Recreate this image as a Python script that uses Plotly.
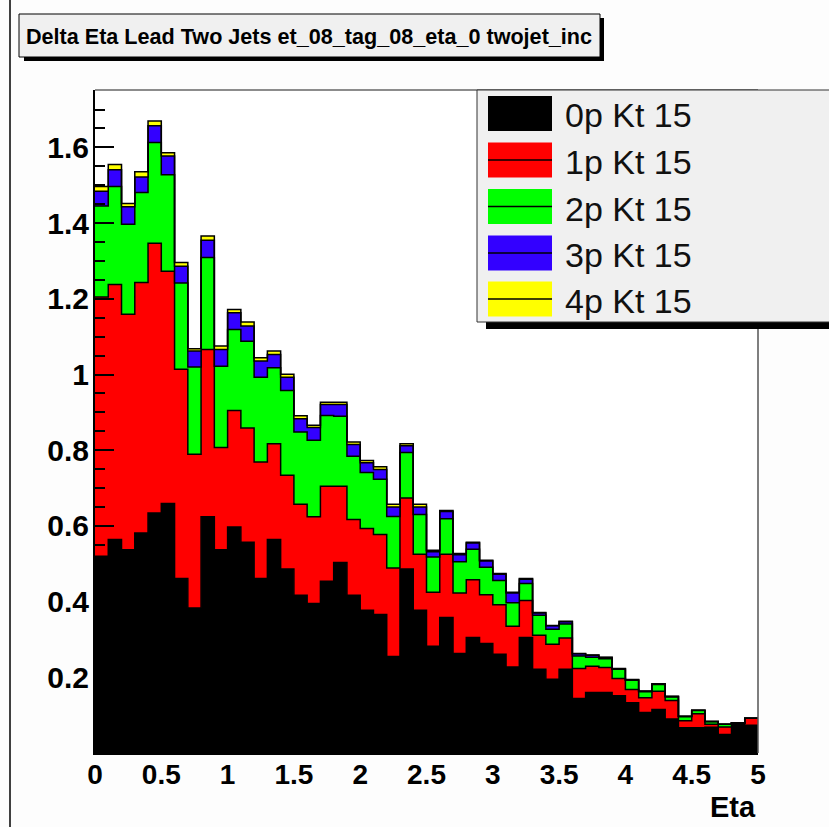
import numpy as np
import plotly.graph_objects as go

# ---- data: 50 bins of width 0.1 from 0 to 5 ----
bin_low_edges = np.round(np.arange(0.0, 5.0, 0.1), 2)
x_max = 5.0

kt15_0p = [0.520, 0.564, 0.537, 0.581, 0.634, 0.659, 0.461, 0.383, 0.624, 0.537,
           0.597, 0.557, 0.461, 0.564, 0.486, 0.417, 0.395, 0.454, 0.503, 0.417,
           0.377, 0.366, 0.255, 0.486, 0.377, 0.282, 0.358, 0.263, 0.305, 0.289,
           0.261, 0.227, 0.305, 0.221, 0.195, 0.221, 0.144, 0.160, 0.160, 0.151,
           0.133, 0.107, 0.115, 0.090, 0.067, 0.067, 0.068, 0.049, 0.079, 0.073]
kt15_1p = [0.685, 0.674, 0.622, 0.662, 0.713, 0.614, 0.553, 0.406, 0.442, 0.270,
           0.308, 0.302, 0.308, 0.253, 0.248, 0.240, 0.229, 0.251, 0.202, 0.200,
           0.216, 0.211, 0.234, 0.188, 0.148, 0.143, 0.167, 0.160, 0.153, 0.129,
           0.131, 0.108, 0.098, 0.090, 0.092, 0.083, 0.079, 0.069, 0.066, 0.046,
           0.035, 0.039, 0.048, 0.049, 0.018, 0.037, 0.008, 0.020, 0.000, 0.019]
kt15_2p = [0.240, 0.259, 0.238, 0.238, 0.266, 0.255, 0.228, 0.231, 0.243, 0.215,
           0.214, 0.229, 0.224, 0.201, 0.224, 0.191, 0.202, 0.187, 0.185, 0.167,
           0.148, 0.146, 0.136, 0.120, 0.105, 0.093, 0.094, 0.082, 0.080, 0.073,
           0.064, 0.062, 0.045, 0.053, 0.040, 0.037, 0.033, 0.024, 0.023, 0.024,
           0.024, 0.016, 0.018, 0.009, 0.011, 0.008, 0.007, 0.007, 0.000, 0.000]
kt15_3p = [0.039, 0.044, 0.046, 0.041, 0.044, 0.049, 0.044, 0.042, 0.046, 0.044,
           0.044, 0.040, 0.043, 0.035, 0.035, 0.035, 0.034, 0.029, 0.031, 0.031,
           0.026, 0.026, 0.025, 0.018, 0.020, 0.014, 0.019, 0.019, 0.017, 0.016,
           0.016, 0.026, 0.011, 0.006, 0.009, 0.006, 0.006, 0.005, 0.003, 0.001,
           0.001, 0.001, 0.001, 0.001, 0.001, 0.001, 0.000, 0.000, 0.000, 0.000]
kt15_4p = [0.013, 0.014, 0.009, 0.014, 0.013, 0.009, 0.010, 0.006, 0.011, 0.009,
           0.009, 0.011, 0.008, 0.009, 0.008, 0.008, 0.006, 0.006, 0.006, 0.007,
           0.006, 0.007, 0.007, 0.005, 0.007, 0.004, 0.003, 0.003, 0.002, 0.002,
           0.002, 0.002, 0.002, 0.001, 0.001, 0.001, 0.001, 0.001, 0.001, 0.001,
           0.001, 0.001, 0.001, 0.001, 0.000, 0.000, 0.000, 0.000, 0.000, 0.000]

series_names = ["0p Kt 15", "1p Kt 15", "2p Kt 15", "3p Kt 15", "4p Kt 15"]
series_values = [kt15_0p, kt15_1p, kt15_2p, kt15_3p, kt15_4p]
series_colors = ["#000000", "#ff0000", "#00ff00", "#3300ff", "#ffff00"]

x_ticks = [0, 0.5, 1, 1.5, 2, 2.5, 3, 3.5, 4, 4.5, 5]
x_ticktext = ["0", "0.5", "1", "1.5", "2", "2.5", "3", "3.5", "4", "4.5", "5"]
y_ticks = [0.2, 0.4, 0.6, 0.8, 1.0, 1.2, 1.4, 1.6]
y_ticktext = ["0.2", "0.4", "0.6", "0.8", "1", "1.2", "1.4", "1.6"]

title_text = "Delta Eta Lead Two Jets et_08_tag_08_eta_0 twojet_inc"
x_title = "Eta"

# ---- geometry (pixels) ----
W, H = 829, 827
L, R, T, B = 95, 71, 90, 74
PW, PH = W - L - R, H - T - B


def px(xp):
    return (xp - L) / PW


def py(yp):
    return (H - B - yp) / PH


FONT = "Liberation Sans, Arial, Helvetica, sans-serif"

fig = go.Figure()
x_steps = np.append(bin_low_edges, x_max)
cum = np.zeros(len(bin_low_edges))
for i, (name, vals, color) in enumerate(zip(series_names, series_values, series_colors)):
    cum = cum + np.asarray(vals)
    y_steps = np.append(cum, cum[-1])
    fig.add_trace(go.Scatter(
        x=x_steps, y=y_steps, mode="lines", name=name,
        line=dict(shape="hv", color="#000000", width=1.5),
        fill="tozeroy" if i == 0 else "tonexty", fillcolor=color,
        showlegend=False, hoverinfo="skip"))

shapes = []
# page frame line on the left
shapes.append(dict(type="line", xref="paper", yref="paper", x0=px(10), x1=px(10),
                   y0=py(0), y1=py(H), line=dict(color="#000000", width=1.5)))
# plot frame top and right
shapes.append(dict(type="line", xref="paper", yref="paper", x0=0, x1=1, y0=1, y1=1,
                   line=dict(color="#666666", width=1.5)))
shapes.append(dict(type="line", xref="paper", yref="paper", x0=1, x1=1, y0=0, y1=1,
                   line=dict(color="#555555", width=1.5)))
# title box with shadow
shapes.append(dict(type="rect", xref="paper", yref="paper", x0=px(24), x1=px(604),
                   y0=py(18), y1=py(61), fillcolor="#000000", line=dict(width=0)))
shapes.append(dict(type="rect", xref="paper", yref="paper", x0=px(19), x1=px(600),
                   y0=py(14), y1=py(57), fillcolor="#f0f0f0",
                   line=dict(color="#000000", width=1)))
# legend box with shadow
shapes.append(dict(type="rect", xref="paper", yref="paper", x0=px(486), x1=px(850),
                   y0=py(96), y1=py(329), fillcolor="#000000", line=dict(width=0)))
shapes.append(dict(type="rect", xref="paper", yref="paper", x0=px(477), x1=px(845),
                   y0=py(90), y1=py(322), fillcolor="#f0f0f0",
                   line=dict(color="#333333", width=1)))

annotations = []
centers = [113.5, 160, 206.5, 253, 299]
for i, (name, color) in enumerate(zip(series_names, series_colors)):
    cy = centers[i]
    shapes.append(dict(type="rect", xref="paper", yref="paper", x0=px(488), x1=px(552),
                       y0=py(cy - 17.5), y1=py(cy + 17.5), fillcolor=color,
                       line=dict(width=0)))
    if i > 0:
        shapes.append(dict(type="line", xref="paper", yref="paper", x0=px(488), x1=px(552),
                           y0=py(cy), y1=py(cy), line=dict(color="#000000", width=1.5)))
    annotations.append(dict(text=name, xref="paper", yref="paper", x=px(563), y=py(cy + 2),
                            xanchor="left", yanchor="middle", showarrow=False,
                            font=dict(family=FONT, size=34, color="#111111")))

annotations.append(dict(text=x_title, xref="paper", yref="paper", x=1.0, y=py(807),
                        xanchor="right", yanchor="middle", showarrow=False,
                        font=dict(family=FONT, size=29, color="#000000", weight="bold")))

fig.update_layout(
    width=W, height=H,
    margin=dict(l=L, r=R, t=T, b=B, pad=0),
    paper_bgcolor="#fdfdfd", plot_bgcolor="#ffffff",
    title=dict(text=title_text, xref="paper", x=px(309), xanchor="center",
               yref="container", y=1 - 36 / H, yanchor="middle",
               font=dict(family=FONT, size=21.6, color="#000000", weight="bold")),
    shapes=shapes, annotations=annotations, showlegend=False,
    xaxis=dict(range=[0, x_max], tickmode="array", tickvals=x_ticks, ticktext=x_ticktext,
               ticks="inside", ticklen=18, tickwidth=1.5, tickcolor="#000000",
               minor=dict(dtick=0.1, tick0=0, ticks="inside", ticklen=10, tickcolor="#000000"),
               showline=True, linecolor="#000000", linewidth=1.5, showgrid=False,
               zeroline=False, layer="above traces", ticklabelstandoff=-4,
               tickfont=dict(family=FONT, size=28, color="#000000", weight="bold")),
    yaxis=dict(range=[0, 1.7517], tickmode="array", tickvals=y_ticks, ticktext=y_ticktext,
               ticks="inside", ticklen=19, tickwidth=1.5, tickcolor="#000000",
               minor=dict(dtick=0.05, tick0=0, ticks="inside", ticklen=10,
                          tickwidth=1.5, tickcolor="#000000"),
               showline=True, linecolor="#000000", linewidth=2, showgrid=False,
               zeroline=False, layer="above traces", ticklabelstandoff=-2,
               tickfont=dict(family=FONT, size=30, color="#000000", weight="bold")),
)

fig.write_html("out.html")
